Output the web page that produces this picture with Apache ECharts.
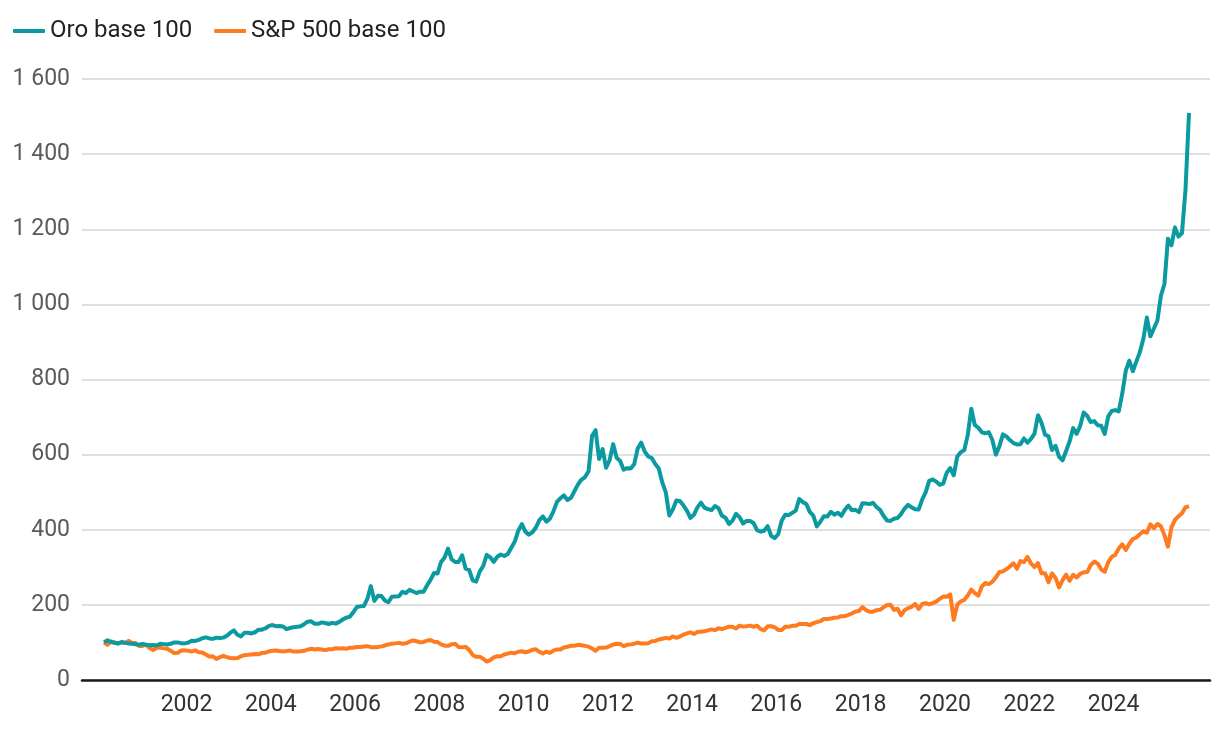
<!DOCTYPE html>
<html>
<head>
<meta charset="utf-8">
<script src="https://cdn.jsdelivr.net/npm/echarts@6/dist/echarts.min.js"></script>
<style>
html,body{margin:0;padding:0;background:#fff;}
#c{width:1220px;height:730px;}
</style>
</head>
<body>
<div id="c"></div>
<script>
// Monthly points, Jan 2000 - Oct 2025 (index, base 100)
const startYear = 2000;
const seriesNames = ['Oro base 100', 'S&P 500 base 100'];
const xTickLabels = [2002, 2004, 2006, 2008, 2010, 2012, 2014, 2016, 2018, 2020, 2022, 2024];
const yTicks = [0, 200, 400, 600, 800, 1000, 1200, 1400, 1600];

const oro = [
100,106,101,99,97,101,99.5,97,96.7,95.4,94,96,
93.8,92.5,92.9,92,96.3,95.5,94.5,96.3,100.1,100,97.6,97.5,
99.5,104.4,103.9,107,111.1,113.5,110.7,109.6,112.8,111.9,112.8,117.8,
126.1,132,120.4,116,125.7,125.9,124,127.1,133.9,133.9,137.8,144,
146.3,143.2,143.7,142.4,135.5,138.5,140.7,141.5,143.2,148.6,155.3,156.2,
149.8,149.6,153.4,151.7,149.1,152.2,150,154.7,161.1,166,168.4,180.2,
194.3,196.1,196.9,215.8,250,210.7,224,223.5,211.4,207,221.8,222.5,
223,234.9,231.4,240,235.7,231.6,235.1,235.1,251.8,266.6,284.9,283.8,
314.3,325.9,350,321.4,314,314.3,332.1,296.5,293.2,265,262,288.4,
303.4,333.3,326.6,314.6,328.1,334.2,330.1,335.5,352.2,368.6,398.2,415,
395,387,393.4,405.9,425.9,435.7,421.6,429.6,449.1,474.2,484,491.4,
479.3,485,503.2,520.8,533.7,540.2,555.8,650,665,588.4,614.5,565,
585,628,591.4,583,560,564,563,574.6,616.5,632,608,595,
590.8,575,563,525.8,499.6,438,454,477.6,476.5,465.2,450.8,431.6,
439.7,459.4,472.1,459,455,452,463,457.6,437,432,415.3,424.2,
442.3,433.6,416.5,423.6,423.5,417.5,398.7,394.9,397.3,409.6,383.9,377.5,
388,423.9,440,439,445,451,482,473.6,468.8,447.6,437.6,409,
421.2,436.1,435.1,447.7,440.3,445.3,437,453.4,464.3,452.1,453,446.8,
470.4,470.2,468.1,471.7,460.6,452.9,437.3,424.6,423.5,429.5,431.3,441.8,
456.5,466.5,459.7,454.4,453.6,480.2,499.3,530.2,533.8,528.2,519.7,522.7,
551.5,564.3,545,594.8,606.3,612.1,652.5,722,679,671.5,659.5,656.7,
659.7,639,600,622,653.8,648.3,638.8,630.9,627.2,627.9,643.1,632,
641.7,656,705,684.4,653.2,649,612.3,623.5,593.9,585,609.6,635.2,
670.6,655.3,675.9,712,703.6,686.5,689.4,678,677,655,701.7,716.2,
718.6,715.1,762.8,823.5,850,822.1,847.5,872.8,908.3,965,915,935.7,
957.2,1022.9,1054.2,1175,1157.2,1205,1180.3,1190,1305,1510
];

const sp500 = [
100,93.9,103,99.8,97.6,100,98.3,104.3,98.7,98.2,90.4,90.7,
93.9,85.2,79.7,85.9,86.3,84.2,83.2,77.9,71.5,72.8,78.3,78.9,
77.7,76.1,78.9,74,73.3,68,62.7,63,56,60.9,64.4,60.5,
58.8,57.8,58.3,63,66.2,67,68.1,69.3,68.5,72.2,72.7,76.4,
77.7,78.7,77.4,76.1,77,78.4,75.7,75.9,76.6,77.7,80.7,83.3,
81.2,82.7,81.1,79.5,81.9,81.9,84.8,83.9,84.5,83,85.9,85.8,
88,88,89,90.1,87.3,87.3,87.7,89.6,91.8,94.7,96.3,97.5,
98.8,96.7,97.7,101.9,105.2,103.3,100,101.3,104.9,106.5,101.8,100.9,
94.7,91.5,90.9,95.2,96.2,88,87.1,88.2,80.2,66.6,61.6,62.1,
56.8,49,53,60,63.2,63.2,67.9,70.1,72.7,71.2,75.3,76.6,
73.8,75.9,80.4,81.6,74.9,70.8,75.7,72.1,78.4,81.3,81.1,86.4,
88.4,91.2,91.1,93.7,92.5,90.8,88.8,83.8,77.8,86.1,85.7,86.4,
90.2,93.9,96.8,96.1,90.1,93.6,94.8,96.7,99,97.1,97.3,98,
103,104.1,107.8,109.8,112.1,110.4,115.9,112.2,115.6,120.7,124.1,127,
122.5,127.8,128.7,129.5,132.2,134.7,132.7,137.7,135.6,138.7,142.1,141.5,
137.1,144.6,142.1,143.3,144.8,141.8,144.6,135.5,132,142.9,143,140.5,
133.3,132.8,141.6,141.9,144.1,144.3,149.4,149.2,149,146.1,151.1,153.9,
156.6,162.4,162.4,163.9,165.8,166.6,169.8,169.9,173.2,177,182,183.8,
194.1,186.5,181.5,182,185.9,186.8,193.6,199.4,200.3,186.4,189.7,172.3,
185.8,191.4,194.8,202.5,189.1,202.2,204.8,201.1,204.6,208.8,215.9,222,
221.7,228,160,200.2,209.2,213.1,224.8,240.6,231.1,224.7,248.9,258.2,
255.3,261.9,273.1,287.4,288.9,295.4,302.1,310.8,296.1,316.5,313.9,327.6,
310.3,300.6,311.4,284,284,260.2,283.9,271.8,246.4,266.1,280.4,263.9,
280.2,272.9,282.4,286.6,287.3,305.9,315.4,309.8,294.7,288.2,313.9,327.8,
333,350.3,361.1,346.1,362.7,375.3,379.5,388.2,396.1,392.1,414.6,404.2,
415.2,409.2,385.7,355,406.3,426.5,435.7,444,459.7,463
];

// month positions in decimal years (mid-month)
const monthX = oro.map((_, i) => startYear + i / 12 + 1 / 24);
const toPairs = arr => arr.map((v, i) => [monthX[i], v]);

const fmtThousands = v => String(v).replace(/\B(?=(\d{3})+(?!\d))/g, ' ');

const chart = echarts.init(document.getElementById('c'), null, {renderer: 'canvas'});
chart.setOption({
  animation: false,
  backgroundColor: '#ffffff',
  textStyle: {fontFamily: 'Roboto'},
  legend: {
    left: 8, top: 14,
    icon: 'roundRect',
    itemWidth: 32, itemHeight: 4,
    itemGap: 22,
    textStyle: {fontSize: 24, color: '#222222', fontFamily: 'Roboto'},
    data: seriesNames
  },
  grid: {left: 82, right: 10, top: 79, bottom: 50, containLabel: false},
  xAxis: {
    type: 'value',
    min: 1999.52, max: 2026.29,
    axisLine: {show: true, lineStyle: {color: '#1a1a1a', width: 2.5}},
    axisTick: {show: false},
    splitLine: {show: false},
    axisLabel: {
      customValues: xTickLabels,
      formatter: v => String(Math.round(v)),
      fontSize: 23, color: '#333333', margin: 14, fontFamily: 'Roboto'
    }
  },
  yAxis: {
    type: 'value',
    min: yTicks[0], max: yTicks[yTicks.length - 1], interval: 200,
    axisLine: {show: false},
    axisTick: {show: false},
    splitLine: {lineStyle: {color: '#d6d6d6', width: 1.5}},
    axisLabel: {formatter: v => fmtThousands(v), fontSize: 23, color: '#5a5a5a', margin: 12, fontFamily: 'Roboto'}
  },
  series: [
    {name: seriesNames[0], type: 'line', data: toPairs(oro), symbol: 'none', z: 3,
     lineStyle: {color: '#0a9aa0', width: 4, join: 'round'}, itemStyle: {color: '#0a9aa0'}},
    {name: seriesNames[1], type: 'line', data: toPairs(sp500), symbol: 'none', z: 2,
     lineStyle: {color: '#ff7b20', width: 4, join: 'round'}, itemStyle: {color: '#ff7b20'}}
  ]
});
</script>
</body>
</html>
